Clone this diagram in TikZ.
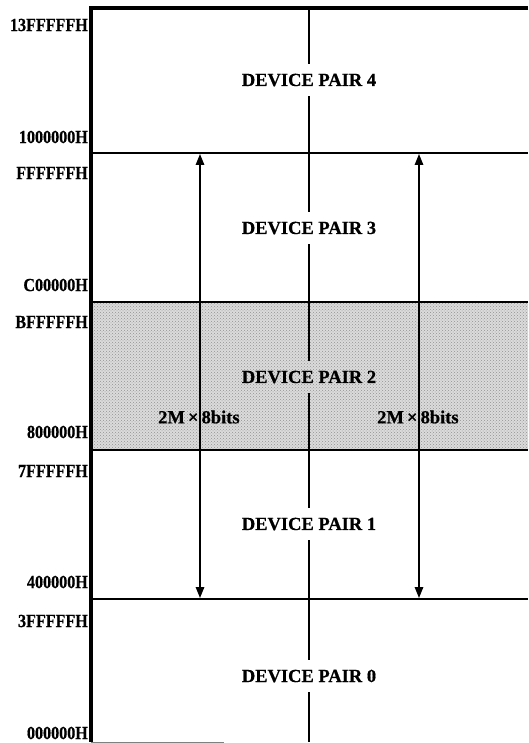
\documentclass[tikz,border=0pt]{standalone}
\usepackage{fontspec}
\setmainfont{Liberation Serif}[BoldFeatures={FakeBold=0.6}]
\newfontfamily\lblfont{Liberation Serif}[FakeStretch=0.87,BoldFeatures={FakeBold=0.6}]
\usetikzlibrary{arrows.meta,patterns}
\begin{document}
\begin{tikzpicture}[x=1pt,y=-1pt,
  addr/.style={anchor=east,inner sep=0pt,font=\lblfont\bfseries\fontsize{18.5}{20}\selectfont},
  pair/.style={inner sep=0pt,minimum height=32pt,font=\bfseries\fontsize{18.5}{20}\selectfont},
  sizelbl/.style={anchor=west,inner sep=0pt,font=\bfseries\fontsize{18.5}{20}\selectfont},
  bandline/.style={line width=2.4pt},
  frameline/.style={line width=3.4pt},
  midline/.style={line width=2pt},
  dimarrow/.style={line width=1.5pt,{Triangle[length=11pt,width=8.5pt]}-{Triangle[length=11pt,width=8.5pt]}},
  ]
\useasboundingbox (0,0) rectangle (528,743);
% shaded band
\fill[gray!28] (91,302) rectangle (528,450);
\fill[pattern=crosshatch dots,pattern color=gray!85] (91,302) rectangle (528,450);
% frame
\draw[frameline] (528,8) -- (91,8) -- (91,742);
\draw[gray,line width=1pt] (91,742) -- (224,742);
% band boundaries
\foreach \yy in {153,302,450,599} \draw[bandline] (91,\yy) -- (528,\yy);
% address labels
\node[addr] (a13) at (88,25) {13FFFFFH};
\node[addr] (a10) at (88,137) {1000000H};
\node[addr] (aFF) at (88,173) {FFFFFFH};
\node[addr] (aC0) at (88,285) {C00000H};
\node[addr] (aBF) at (88,322) {BFFFFFH};
\node[addr] (a80) at (88,432) {800000H};
\node[addr] (a7F) at (88,471) {7FFFFFH};
\node[addr] (a40) at (88,582) {400000H};
\node[addr] (a3F) at (88,621) {3FFFFFH};
\node[addr] (a00) at (88,733) {000000H};
% device pair labels
\node[pair] (p4) at (309,80) {DEVICE PAIR 4};
\node[pair] (p3) at (309,228) {DEVICE PAIR 3};
\node[pair] (p2) at (309,377) {DEVICE PAIR 2};
\node[pair] (p1) at (309,524) {DEVICE PAIR 1};
\node[pair] (p0) at (309,676) {DEVICE PAIR 0};
% centre line
\coordinate (ctop) at (309,8);
\coordinate (cbot) at (309,742);
\draw[midline] (ctop) -- (p4.north);
\draw[midline] (p4.south) -- (p3.north);
\draw[midline] (p3.south) -- (p2.north);
\draw[midline] (p2.south) -- (p1.north);
\draw[midline] (p1.south) -- (p0.north);
\draw[midline] (p0.south) -- (cbot);
% dimension arrows
\coordinate (l1) at (200,154);
\coordinate (l2) at (200,598);
\coordinate (r1) at (419,154);
\coordinate (r2) at (419,598);
\draw[dimarrow] (l1) -- (l2);
\draw[dimarrow] (r1) -- (r2);
\node[sizelbl] (s1) at (158,417) {2M\,×\,8bits};
\node[sizelbl] (s2) at (377,417) {2M\,×\,8bits};
\end{tikzpicture}
\end{document}
